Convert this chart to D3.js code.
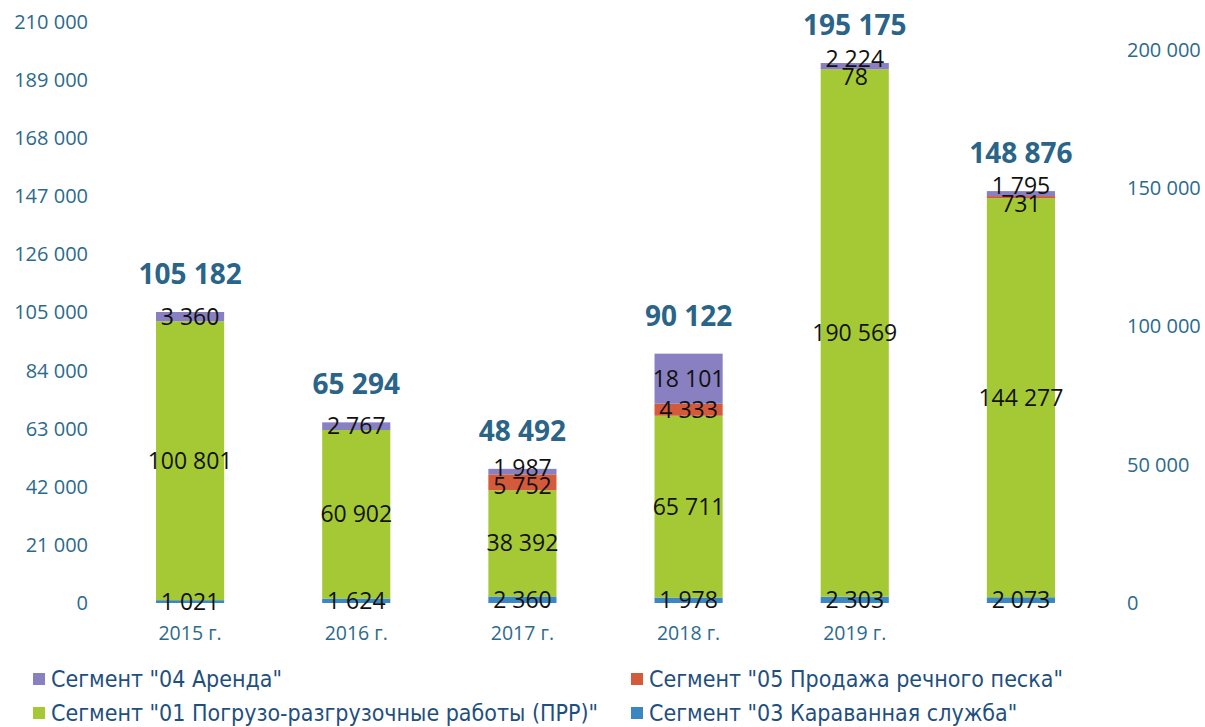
<!DOCTYPE html>
<html>
<head>
<meta charset="utf-8">
<script src="https://cdn.jsdelivr.net/npm/d3@7"></script>
<style>
  body { margin: 0; background: #fff; }
  svg { display: block; }
</style>
</head>
<body>
<div id="chart"></div>
<script>
// Stacked bars by segment, totals above, two value axes sharing one scale.

const years = ["2015 г.", "2016 г.", "2017 г.", "2018 г.", "2019 г.", ""];
const seg03 = [1021, 1624, 2360, 1978, 2303, 2073];          // Караванная служба
const seg01 = [100801, 60902, 38392, 65711, 190569, 144277];  // ПРР
const seg05 = [0, 0, 5752, 4333, 78, 731];                    // Продажа речного песка
const seg04 = [3360, 2767, 1987, 18101, 2224, 1795];          // Аренда
const totals = [105182, 65294, 48492, 90122, 195175, 148876];
const leftTicks = [0, 21000, 42000, 63000, 84000, 105000, 126000, 147000, 168000, 189000, 210000];
const rightTicks = [0, 50000, 100000, 150000, 200000];

const SEGS = [
  { key: "s03", vals: seg03, color: "#3b87c4", name: "Сегмент \"03 Караванная служба\"" },
  { key: "s01", vals: seg01, color: "#a5c934", name: "Сегмент \"01 Погрузо-разгрузочные работы (ПРР)\"" },
  { key: "s05", vals: seg05, color: "#d45a3c", name: "Сегмент \"05 Продажа речного песка\"" },
  { key: "s04", vals: seg04, color: "#8880c0", name: "Сегмент \"04 Аренда\"" },
];

const W = 1205, H = 727;
const margin = { top: 22, right: 101, bottom: 124, left: 107 };
const fmt = v => d3.format(",")(v).replace(/,/g, " ");

const rows = years.map((y, i) => {
  const r = { year: y, i };
  SEGS.forEach(s => r[s.key] = s.vals[i]);
  return r;
});
const stack = d3.stack().keys(SEGS.map(s => s.key))(rows);

const svg = d3.select("#chart").append("svg").attr("width", W).attr("height", H);

const x = d3.scaleBand().domain(d3.range(years.length))
  .range([margin.left, W - margin.right]).paddingInner(0.59).paddingOuter(0.295);
const y = d3.scaleLinear().domain([0, 210000]).range([603, margin.top]);

const axisFont = "'Open Sans', sans-serif";
const axisColor = "#2c6a8c";

// Left axis
const gL = svg.append("g").attr("transform", `translate(88,0)`)
  .call(d3.axisLeft(y).tickValues(leftTicks).tickFormat(fmt).tickSize(0).tickPadding(0));
gL.select(".domain").remove();
gL.selectAll("text").attr("font-family", axisFont).attr("font-size", 20).attr("fill", axisColor);

// Right axis (same scale, other ticks)
const gR = svg.append("g").attr("transform", `translate(1127,0)`)
  .call(d3.axisRight(y).tickValues(rightTicks).tickFormat(fmt).tickSize(0).tickPadding(0));
gR.select(".domain").remove();
gR.selectAll("text").attr("font-family", axisFont).attr("font-size", 20).attr("fill", axisColor);

// X labels
svg.append("g").selectAll("text").data(years).join("text")
  .attr("x", (d, i) => x(i) + x.bandwidth() / 2)
  .attr("y", 640)
  .attr("text-anchor", "middle")
  .attr("font-family", axisFont).attr("font-size", 19.5).attr("fill", axisColor)
  .text(d => d);

// Bars
const gBars = svg.append("g");
stack.forEach((layer, li) => {
  gBars.append("g").attr("fill", SEGS[li].color)
    .selectAll("rect").data(layer).join("rect")
    .attr("x", d => x(d.data.i))
    .attr("width", x.bandwidth())
    .attr("y", d => y(d[1]))
    .attr("height", d => y(d[0]) - y(d[1]));
});

// Segment value labels: centred in the segment, small neighbours pushed apart a little
const labels = [];
years.forEach((_, i) => {
  const col = stack.map(layer => layer[i]).filter(d => d[1] - d[0] > 0)
    .map(d => ({ i, v: d[1] - d[0], cy: y((d[0] + d[1]) / 2) }));
  for (let k = 1; k < col.length; k++) {
    const gap = col[k - 1].cy - col[k].cy, minGap = 18;
    if (gap < minGap) {
      const push = (minGap - gap) / 2;
      col[k - 1].cy += push;
      col[k].cy -= push;
    }
  }
  labels.push(...col);
});
svg.append("g").selectAll("text").data(labels).join("text")
  .attr("x", d => x(d.i) + x.bandwidth() / 2)
  .attr("y", d => d.cy)
  .attr("dy", "0.35em")
  .attr("text-anchor", "middle")
  .attr("font-family", "'Open Sans', sans-serif").attr("font-size", 23).attr("fill", "#111")
  .text(d => fmt(d.v));

// Totals
svg.append("g").selectAll("text").data(totals).join("text")
  .attr("x", (d, i) => x(i) + x.bandwidth() / 2)
  .attr("y", (d, i) => y(d) - 28)
  .attr("text-anchor", "middle")
  .attr("font-family", "'Open Sans', sans-serif").attr("font-weight", 700)
  .attr("font-size", 28).attr("fill", "#2a6488")
  .text(fmt);

// Legend
const legendItems = [
  { seg: SEGS[3], x: 33, y: 679 },
  { seg: SEGS[2], x: 631, y: 679 },
  { seg: SEGS[1], x: 33, y: 713 },
  { seg: SEGS[0], x: 631, y: 713 },
];
const lg = svg.append("g").selectAll("g").data(legendItems).join("g")
  .attr("transform", d => `translate(${d.x},${d.y})`);
lg.append("rect").attr("x", 0).attr("y", -6).attr("width", 12).attr("height", 12)
  .attr("fill", d => d.seg.color);
lg.append("text").attr("x", 18).attr("dy", "0.35em")
  .attr("font-family", "'Liberation Sans Narrow', 'DejaVu Sans Condensed', sans-serif")
  .attr("font-size", 23).attr("fill", "#1f4f7e")
  .text(d => d.seg.name);
</script>
</body>
</html>
